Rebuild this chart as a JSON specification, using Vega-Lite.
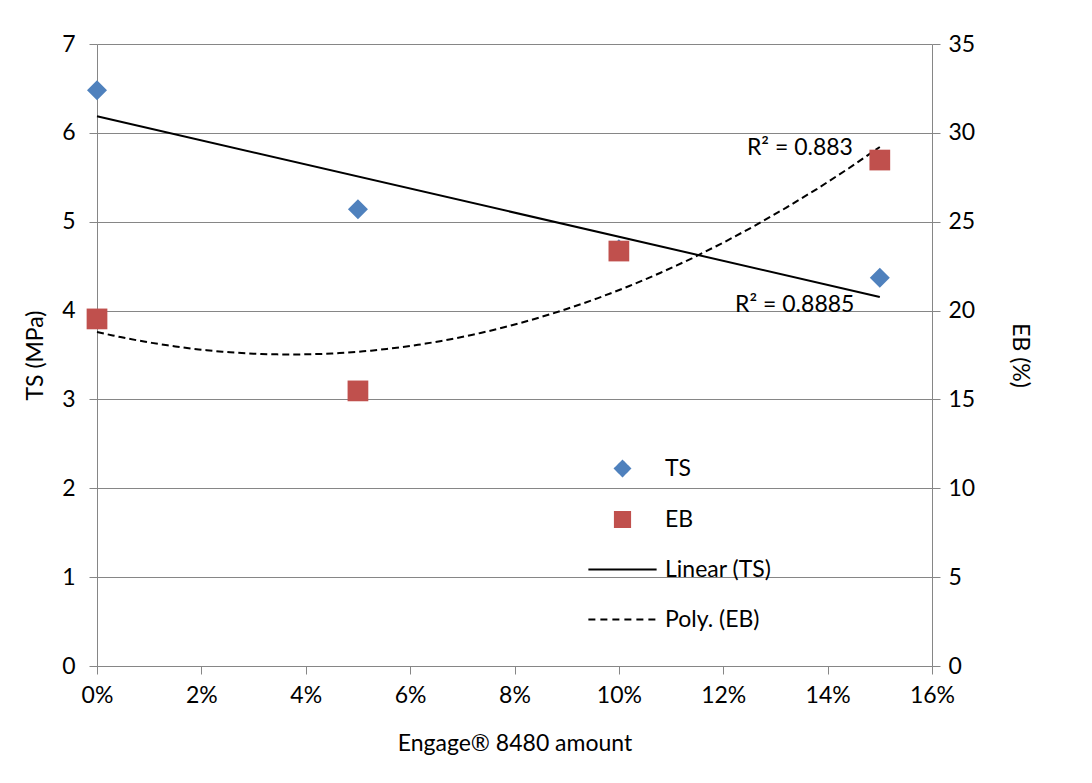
{
  "$schema": "https://vega.github.io/schema/vega-lite/v6.json",
  "width": 835,
  "height": 622,
  "autosize": {"type": "none"},
  "padding": {"left": 97, "top": 44, "right": 160, "bottom": 117},
  "background": "white",
  "config": {
    "view": {"stroke": null},
    "font": "Lato",
    "axis": {
      "domainColor": "#868686",
      "tickColor": "#868686",
      "gridColor": "#868686",
      "tickSize": 8,
      "labelFontSize": 23,
      "labelColor": "black",
      "titleFontSize": 23,
      "titleFontWeight": "normal",
      "titleColor": "black",
      "labelFont": "Lato",
      "titleFont": "Lato"
    }
  },
  "datasets": {
    "main": [
      {"amount": 0, "TS": 6.48, "EB": 19.53},
      {"amount": 0.05, "TS": 5.14, "EB": 15.48},
      {"amount": 0.10, "TS": 4.69, "EB": 23.35},
      {"amount": 0.15, "TS": 4.37, "EB": 28.47}
    ],
    "notes": [
      {"amount": 0.1347, "TS": 5.83, "label": "R² = 0.883"},
      {"amount": 0.1337, "TS": 4.06, "label": "R² = 0.8885"}
    ]
  },
  "encoding": {
    "x": {
      "field": "amount",
      "type": "quantitative",
      "scale": {"domain": [0, 0.16], "nice": false, "zero": false},
      "axis": {
        "values": [0, 0.02, 0.04, 0.06, 0.08, 0.1, 0.12, 0.14, 0.16],
        "format": ".0%",
        "grid": false,
        "labelFlush": false,
        "title": "Engage® 8480 amount",
        "labelPadding": 10,
        "titlePadding": 25
      }
    }
  },
  "layer": [
    {
      "layer": [
        {
          "data": {"name": "main"},
          "transform": [{"regression": "TS", "on": "amount", "extent": [0, 0.15]}],
          "mark": {"type": "line", "strokeWidth": 2},
          "encoding": {
            "y": {"field": "TS", "type": "quantitative"},
            "color": {
              "datum": "Linear (TS)",
              "scale": {
                "domain": ["TS", "EB", "Linear (TS)", "Poly. (EB)"],
                "range": ["#4F81BD", "#C0504D", "black", "black"]
              },
              "legend": {
                "title": null,
                "orient": "none",
                "legendX": 514,
                "legendY": 413,
                "symbolSize": 230,
                "labelFontSize": 23,
                "labelFont": "Lato",
                "labelColor": "black",
                "labelOffset": 31,
                "rowPadding": 26,
                "encode": {
                  "symbols": {
                    "update": {
                      "shape": {"signal": "datum.value=='TS'?'diamond':datum.value=='EB'?'square':'M-4.5,0H4.5'"},
                      "size": {"value": 230},
                      "strokeDash": {"signal": "datum.value=='Poly. (EB)'?[7,5]:[1,0]"},
                      "fill": {"signal": "datum.value=='TS'?'#4F81BD':datum.value=='EB'?'#C0504D':'transparent'"},
                      "stroke": {"signal": "(datum.value=='TS'||datum.value=='EB')?'transparent':'black'"},
                      "strokeWidth": {"value": 2},
                      "opacity": {"value": 1},
                      "fillOpacity": {"value": 1}
                    }
                  }
                }
              }
            }
          }
        },
        {
          "data": {"name": "main"},
          "mark": {"type": "point", "shape": "diamond", "filled": true, "size": 400, "opacity": 1},
          "encoding": {
            "y": {
              "field": "TS",
              "type": "quantitative",
              "scale": {"domain": [0, 7], "nice": false},
              "axis": {
                "orient": "left",
                "values": [0, 1, 2, 3, 4, 5, 6, 7],
                "format": "d",
                "grid": true,
                "title": "TS (MPa)",
                "labelPadding": 14,
                "titlePadding": 14
              }
            },
            "color": {"datum": "TS"}
          }
        },
        {
          "data": {"name": "notes"},
          "mark": {"type": "text", "fontSize": 23, "font": "Lato", "color": "black", "align": "center", "baseline": "middle"},
          "encoding": {
            "y": {"field": "TS", "type": "quantitative"},
            "text": {"field": "label"}
          }
        }
      ]
    },
    {
      "layer": [
        {
          "data": {"name": "main"},
          "transform": [{"regression": "EB", "on": "amount", "method": "poly", "order": 2, "extent": [0, 0.15]}],
          "mark": {"type": "line", "strokeWidth": 2, "strokeDash": [7, 4]},
          "encoding": {
            "y": {"field": "EB", "type": "quantitative"},
            "color": {"datum": "Poly. (EB)"}
          }
        },
        {
          "data": {"name": "main"},
          "mark": {"type": "point", "shape": "square", "filled": true, "size": 430, "opacity": 1},
          "encoding": {
            "y": {
              "field": "EB",
              "type": "quantitative",
              "scale": {"domain": [0, 35], "nice": false},
              "axis": {
                "orient": "right",
                "values": [0, 5, 10, 15, 20, 25, 30, 35],
                "grid": false,
                "title": "EB (%)",
                "labelPadding": 8,
                "titlePadding": 33
              }
            },
            "color": {"datum": "EB"}
          }
        }
      ]
    }
  ],
  "resolve": {"scale": {"y": "independent"}}
}
